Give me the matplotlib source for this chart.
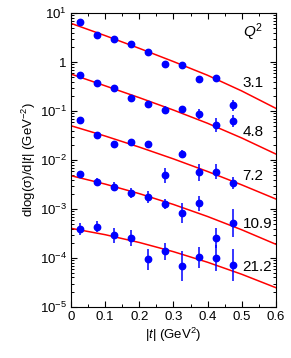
import matplotlib
matplotlib.use('Agg')
import matplotlib.pyplot as plt
import numpy as np

plt.rcParams['font.family'] = ['Liberation Sans', 'DejaVu Sans']
plt.rcParams['mathtext.fontset'] = 'custom'
plt.rcParams['mathtext.rm'] = 'Liberation Sans'
plt.rcParams['mathtext.it'] = 'Liberation Sans:italic'
plt.rcParams['mathtext.default'] = 'regular'

# |t| bin centres
t_vals = [0.025, 0.075, 0.125, 0.175, 0.225, 0.275, 0.325, 0.375, 0.425, 0.475]

# data per Q^2 bin (GeV^-2)
q2_labels = ['3.1', '4.8', '7.2', '10.9', '21.2']
data_q31 = [6.5, 3.56, 3.0, 2.37, 1.6, 0.92, 0.87, 0.45, 0.47, 0.130]
data_q48 = [0.55, 0.378, 0.294, 0.182, 0.141, 0.103, 0.111, 0.087, 0.052, 0.0634]
data_q72 = [0.0645, 0.0329, 0.0209, 0.023, 0.0215, 0.00487, 0.0132, 0.0056, 0.00577, 0.00344]
data_q109 = [0.00518, 0.00356, 0.00285, 0.00212, 0.00176, 0.00127, 0.00084, 0.0013, 0.000256, 0.00052]
data_q212 = [0.00039, 0.000435, 0.00029, 0.000256, 0.000094, 0.000137, 0.0000687, 0.000103, 0.0001, 0.000073]

# error bar half length in decades
err_q31 = [0.03, 0.03, 0.03, 0.03, 0.03, 0.04, 0.06, 0.07, 0.07, 0.12]
err_q48 = [0.03, 0.03, 0.03, 0.06, 0.06, 0.08, 0.06, 0.10, 0.15, 0.12]
err_q72 = [0.03, 0.04, 0.06, 0.06, 0.06, 0.15, 0.08, 0.17, 0.15, 0.12]
err_q109 = [0.04, 0.075, 0.09, 0.11, 0.12, 0.11, 0.20, 0.16, 0.20, 0.29]
err_q212 = [0.12, 0.11, 0.15, 0.16, 0.21, 0.17, 0.30, 0.22, 0.27, 0.33]

# fit curves (log10 values)
fit_t = [0.0, 0.1, 0.2, 0.3, 0.4, 0.5, 0.6]
fit_q31 = [0.79, 0.54, 0.28, 0.01, -0.27, -0.59, -0.945]
fit_q48 = [-0.245, -0.485, -0.727, -0.98, -1.25, -1.55, -1.878]
fit_q72 = [-1.30, -1.51, -1.736, -1.977, -2.234, -2.507, -2.796]
fit_q109 = [-2.32, -2.491, -2.686, -2.907, -3.153, -3.424, -3.72]
fit_q212 = [-3.394, -3.524, -3.683, -3.871, -4.087, -4.332, -4.606]

# label heights
label_y = [0.38, 0.038, 0.0047, 0.00049, 0.0000665]

yticks = [1e-5, 1e-4, 1e-3, 1e-2, 1e-1, 1, 10]
ytick_labels = ['$10^{-5}$', '$10^{-4}$', '$10^{-3}$', '$10^{-2}$', '$10^{-1}$', '1', '$10^{1}$']

series = [data_q31, data_q48, data_q72, data_q109, data_q212]
errors = [err_q31, err_q48, err_q72, err_q109, err_q212]
fits = [fit_q31, fit_q48, fit_q72, fit_q109, fit_q212]

fig = plt.figure(figsize=(2.91, 3.58), dpi=100)
ax = fig.add_axes([0.244, 0.1425, 0.704, 0.821])

for fit in fits:
    ax.plot(fit_t, 10 ** np.array(fit), color='#ff0000', lw=1.1, zorder=2)

for vals, err in zip(series, errors):
    v = np.array(vals)
    e = np.array(err)
    lo = v - v * 10 ** (-e)
    hi = v * 10 ** e - v
    ax.errorbar(t_vals, v, yerr=[lo, hi], fmt='o', color='#0000ff', ms=4.6,
                elinewidth=1.1, capsize=0, zorder=3)

ax.set_yscale('log')
ax.set_xlim(0, 0.6)
ax.set_ylim(1e-5, 10)
ax.set_yticks(yticks)
ax.set_yticklabels(ytick_labels)
ax.set_xticks([0, 0.1, 0.2, 0.3, 0.4, 0.5, 0.6])
ax.set_xticklabels(['0', '0.1', '0.2', '0.3', '0.4', '0.5', '0.6'])
ax.set_xticks(np.arange(0.05, 0.6, 0.1), minor=True)
ax.tick_params(which='both', direction='in', top=True, right=True, labelsize=9.5, pad=3)
ax.tick_params(which='major', length=4.5, width=0.8)
ax.tick_params(which='minor', length=2.5, width=0.7)
for s in ax.spines.values():
    s.set_linewidth(0.8)

ax.set_xlabel('|$\\mathit{t}$| (GeV$^2$)', fontsize=9.5, labelpad=2)
ax.set_ylabel('dlog(σ)/d|$\\mathit{t}$| (GeV$^{-2}$)', fontsize=9.5, labelpad=1)

ax.text(0.505, 4.1, '$\\mathit{Q}^2$', fontsize=11, ha='left', va='center')
for lab, yv in zip(q2_labels, label_y):
    ax.text(0.503, yv, lab, fontsize=11, ha='left', va='center')

fig.savefig('out.png', dpi=100)
